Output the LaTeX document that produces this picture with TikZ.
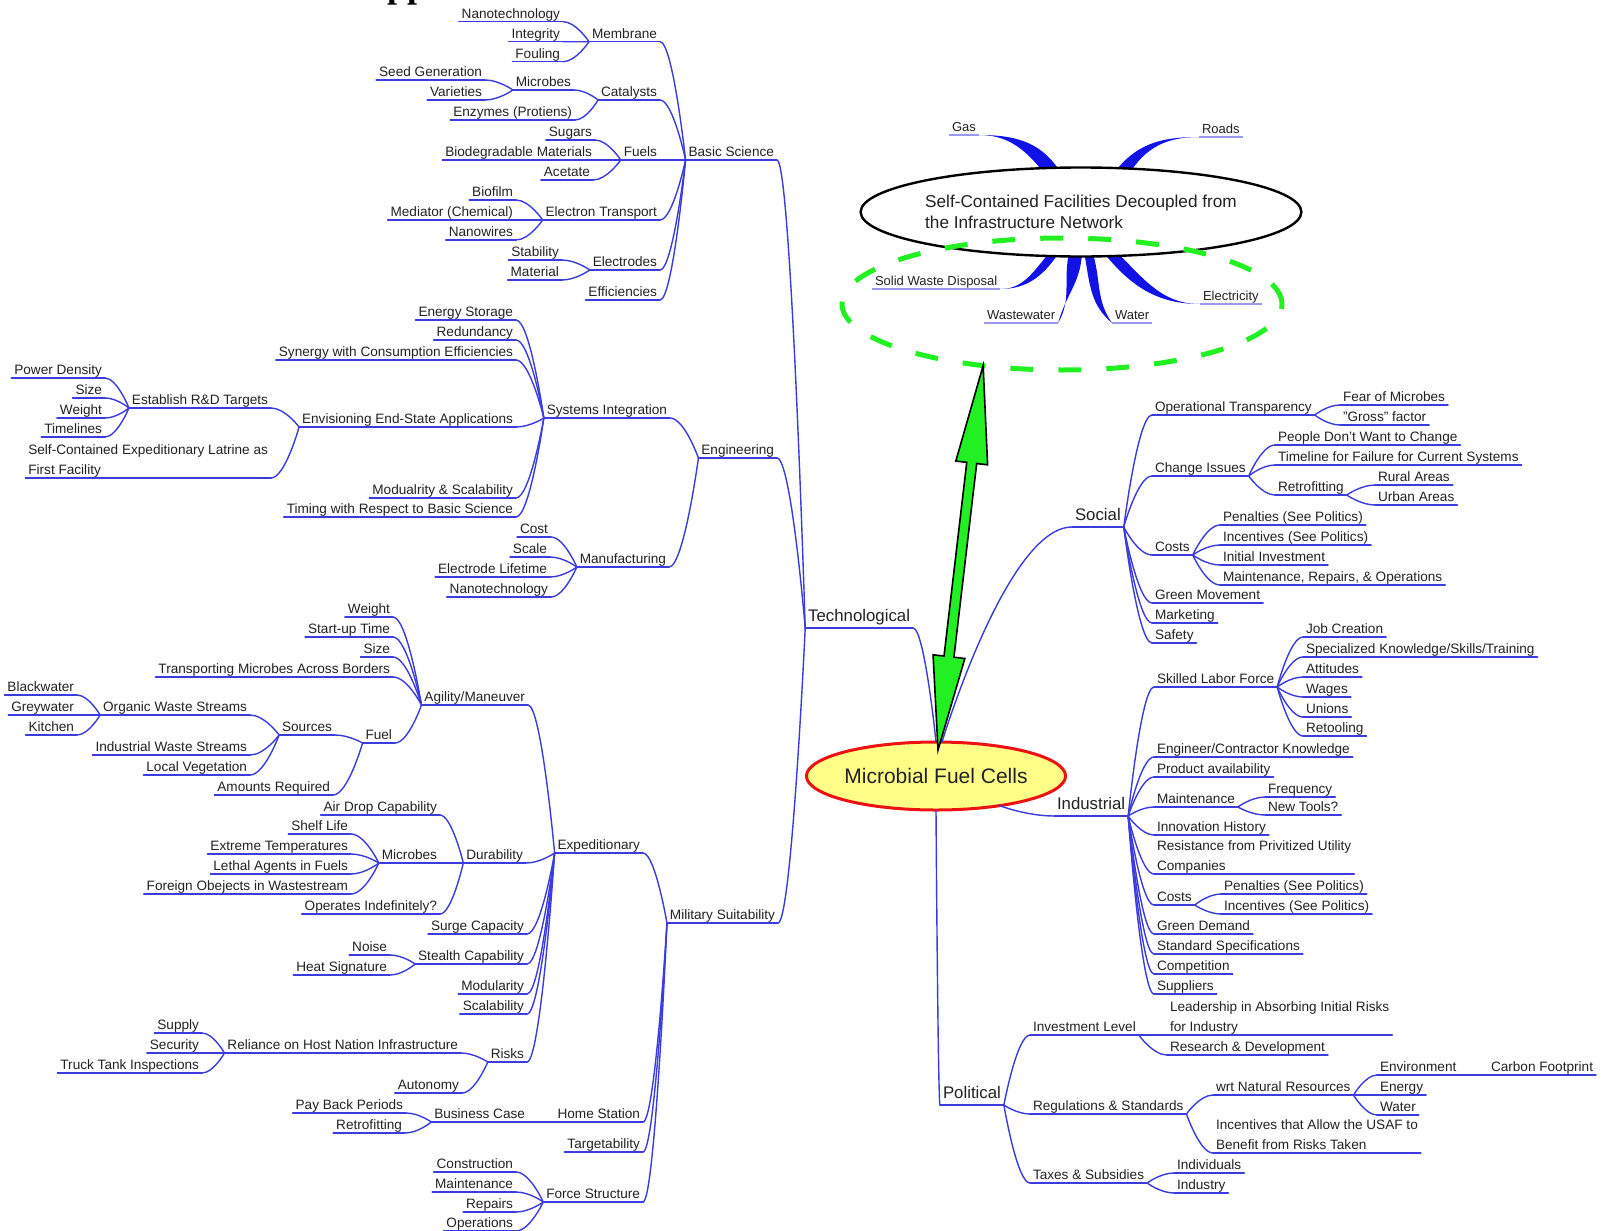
\documentclass[tikz,border=0pt]{standalone}
\usepackage{fontspec}
\setmainfont{Liberation Sans}
\newfontfamily\headfont{Liberation Serif}
\usetikzlibrary{shapes.geometric,calc,backgrounds}
\definecolor{mapblue}{HTML}{3B3BDE}
\definecolor{paleblue}{HTML}{9A9AF2}
\definecolor{deepblue}{HTML}{1212E6}
\definecolor{ink}{HTML}{222222}
\definecolor{lime}{HTML}{22F022}
\definecolor{hubfill}{HTML}{FFFF88}
\definecolor{hubred}{HTML}{EE1111}

\begin{document}
\begin{tikzpicture}[
  x=0.5pt, y=-0.5pt,
  every node/.style={text=ink, outer sep=0pt},
  mapline/.style={draw=mapblue, line width=0.7pt, line cap=round},
  paleline/.style={draw=paleblue, line width=0.6pt},
  topic/.style={font=\fontsize{6.8}{9.75}\selectfont, inner xsep=1.5pt, inner ysep=0.3pt, text depth=1.5pt, align=left,
    append after command={(\tikzlastnode.south west) edge[mapline] (\tikzlastnode.south east)}},
  ltopic/.style={topic, anchor=south east},
  rtopic/.style={topic, anchor=south west},
  branch/.style={font=\fontsize{8.4}{10}\selectfont, inner xsep=1.5pt, inner ysep=1pt, text depth=2.3pt,
    append after command={(\tikzlastnode.south west) edge[mapline] (\tikzlastnode.south east)}},
  outlet/.style={font=\fontsize{6.5}{8}\selectfont, inner xsep=1.5pt, inner ysep=0.3pt, text depth=1.5pt, anchor=south west,
    append after command={(\tikzlastnode.south west) edge[paleline] (\tikzlastnode.south east)}},
  link/.style={mapline, to path={.. controls (\tikztostart) and ($(\tikztotarget)!0.5!(\tikztotarget -| \tikztostart)$) .. (\tikztotarget)}},
]
\useasboundingbox (0,0) rectangle (1601,1231);
\begin{scope}[on background layer]
  \fill[white] (0,0) rectangle (1601,1231);
\end{scope}

% cut-off heading at the top edge
\node[anchor=base west, inner sep=0pt, text=black, font=\headfont\bfseries\fontsize{18}{20}\selectfont] (heading) at (387,-3) {pp};

% Hub
\node[ellipse, draw=hubred, line width=1.5pt, fill=hubfill, minimum width=118.5pt, minimum height=34pt, inner sep=0pt, font=\fontsize{10.5}{12}\selectfont] (mfc) at (936,776) {Microbial Fuel Cells};

% Technological
\node[branch, anchor=south east] (tech) at (913,628) {Technological};
\node[ltopic] (basic) at (777,160) {Basic Science};
\node[ltopic] (eng) at (777,458) {Engineering};
\node[ltopic] (mil) at (778,923) {Military Suitability};

% Basic Science
\node[ltopic] (memb) at (660,41.7) {Membrane};
\node[ltopic] (cata) at (660,100) {Catalysts};
\node[ltopic] (fuels) at (660,160) {Fuels};
\node[ltopic] (etrans) at (660,220) {Electron Transport};
\node[ltopic] (electr) at (660,270) {Electrodes};
\node[ltopic] (effic) at (660,300) {Efficiencies};
\node[ltopic] (nanoA) at (563,21.7) {Nanotechnology};
\node[ltopic] (integ) at (563,41.7) {Integrity};
\node[ltopic] (foul) at (563,61.7) {Fouling};
\node[ltopic] (microA) at (574,90) {Microbes};
\node[ltopic] (enzy) at (575,120) {Enzymes (Protiens)};
\node[ltopic] (seed) at (485,80) {Seed Generation};
\node[ltopic] (variet) at (485,100) {Varieties};
\node[ltopic] (sugar) at (595,140) {Sugars};
\node[ltopic] (biodeg) at (595,160) {Biodegradable Materials};
\node[ltopic] (acet) at (593,180) {Acetate};
\node[ltopic] (biofilm) at (516,200) {Biofilm};
\node[ltopic] (mediat) at (516,220) {Mediator (Chemical)};
\node[ltopic] (nanow) at (516,240) {Nanowires};
\node[ltopic] (stabil) at (562,260) {Stability};
\node[ltopic] (materl) at (562,280) {Material};

% Engineering
\node[ltopic] (sysint) at (670,418) {Systems Integration};
\node[ltopic] (manuf) at (669,567) {Manufacturing};
\node[ltopic] (energy) at (516,320) {Energy Storage};
\node[ltopic] (redund) at (516,340) {Redundancy};
\node[ltopic] (synergy) at (516,360) {Synergy with Consumption Efficiencies};
\node[ltopic] (envis) at (516,427) {Envisioning End-State Applications};
\node[ltopic] (modul) at (516,498) {Modualrity \& Scalability};
\node[ltopic] (timing) at (516,517) {Timing with Respect to Basic Science};
\node[ltopic] (rdtarg) at (271,408) {Establish R\&D Targets};
\node[ltopic] (latrine) at (271,478) {Self-Contained Expeditionary Latrine as\\First Facility};
\node[ltopic] (power) at (105,378) {Power Density};
\node[ltopic] (sizeA) at (105,398) {Size};
\node[ltopic] (weightA) at (105,418) {Weight};
\node[ltopic] (timel) at (105,437) {Timelines};
\node[ltopic] (costA) at (551,537) {Cost};
\node[ltopic] (scaleA) at (550,557) {Scale};
\node[ltopic] (elife) at (550,577) {Electrode Lifetime};
\node[ltopic] (nanoB) at (551,597) {Nanotechnology};

% Military Suitability
\node[ltopic] (exped) at (643,853) {Expeditionary};
\node[ltopic] (home) at (643,1122) {Home Station};
\node[ltopic] (target) at (643,1152) {Targetability};
\node[ltopic] (force) at (643,1202) {Force Structure};
\node[ltopic] (agil) at (528,705) {Agility/Maneuver};
\node[ltopic] (durab) at (526,863) {Durability};
\node[ltopic] (surge) at (527,934) {Surge Capacity};
\node[ltopic] (stealth) at (527,964) {Stealth Capability};
\node[ltopic] (moduB) at (527,994) {Modularity};
\node[ltopic] (scalB) at (527,1014) {Scalability};
\node[ltopic] (risks) at (527,1062) {Risks};
\node[ltopic] (weightB) at (393,617) {Weight};
\node[ltopic] (startup) at (393,637) {Start-up Time};
\node[ltopic] (sizeB) at (393,657) {Size};
\node[ltopic] (transp) at (393,677) {Transporting Microbes Across Borders};
\node[ltopic] (fuelB) at (395,743) {Fuel};
\node[ltopic] (sources) at (335,735) {Sources};
\node[ltopic] (amount) at (333,795) {Amounts Required};
\node[ltopic] (organic) at (250,715) {Organic Waste Streams};
\node[ltopic] (industw) at (250,755) {Industrial Waste Streams};
\node[ltopic] (localveg) at (250,775) {Local Vegetation};
\node[ltopic] (blackw) at (77,695) {Blackwater};
\node[ltopic] (greyw) at (77,715) {Greywater};
\node[ltopic] (kitchen) at (77,735) {Kitchen};
\node[ltopic] (airdrop) at (440,815) {Air Drop Capability};
\node[ltopic] (microB) at (440,863) {Microbes};
\node[ltopic] (operat) at (440,914) {Operates Indefinitely?};
\node[ltopic] (shelf) at (351,834) {Shelf Life};
\node[ltopic] (extreme) at (351,854) {Extreme Temperatures};
\node[ltopic] (lethal) at (351,874) {Lethal Agents in Fuels};
\node[ltopic] (foreign) at (351,894) {Foreign Obejects in Wastestream};
\node[ltopic] (noise) at (390,955) {Noise};
\node[ltopic] (heat) at (390,975) {Heat Signature};
\node[ltopic] (reliance) at (461,1053) {Reliance on Host Nation Infrastructure};
\node[ltopic] (autonomy) at (462,1093) {Autonomy};
\node[ltopic] (supply) at (202,1033) {Supply};
\node[ltopic] (security) at (202,1053) {Security};
\node[ltopic] (truck) at (202,1073) {Truck Tank Inspections};
\node[ltopic] (business) at (528,1122) {Business Case};
\node[ltopic] (payback) at (406,1113) {Pay Back Periods};
\node[ltopic] (retroA) at (405,1133) {Retrofitting};
\node[ltopic] (constr) at (516,1172) {Construction};
\node[ltopic] (maintA) at (516,1192) {Maintenance};
\node[ltopic] (repairs) at (516,1212) {Repairs};
\node[ltopic] (operations) at (516,1231) {Operations};

% Social
\node[branch, anchor=south west] (soc) at (1072,527) {Social};
\node[rtopic] (optrans) at (1152,415) {Operational Transparency};
\node[rtopic] (change) at (1152,476) {Change Issues};
\node[rtopic] (costsA) at (1152,555) {Costs};
\node[rtopic] (greenm) at (1152,603) {Green Movement};
\node[rtopic] (market) at (1152,623) {Marketing};
\node[rtopic] (safety) at (1152,643) {Safety};
\node[rtopic] (fear) at (1340,405) {Fear of Microbes};
\node[rtopic] (gross) at (1340,425) {"Gross" factor};
\node[rtopic] (people) at (1275,445) {People Don't Want to Change};
\node[rtopic] (timeline) at (1275,465) {Timeline for Failure for Current Systems};
\node[rtopic] (retroB) at (1275,495) {Retrofitting};
\node[rtopic] (rural) at (1375,485) {Rural Areas};
\node[rtopic] (urban) at (1375,505) {Urban Areas};
\node[rtopic] (penA) at (1220,525) {Penalties (See Politics)};
\node[rtopic] (incA) at (1220,545) {Incentives (See Politics)};
\node[rtopic] (initial) at (1220,565) {Initial Investment};
\node[rtopic] (mro) at (1220,585) {Maintenance, Repairs, \& Operations};

% Industrial
\node[branch, anchor=south west] (ind) at (1054,816) {Industrial};
\node[rtopic] (skilled) at (1154,687) {Skilled Labor Force};
\node[rtopic] (engcon) at (1154,757) {Engineer/Contractor Knowledge};
\node[rtopic] (product) at (1154,777) {Product availability};
\node[rtopic] (maintB) at (1154,807) {Maintenance};
\node[rtopic] (innov) at (1154,835) {Innovation History};
\node[rtopic] (resist) at (1154,874) {Resistance from Privitized Utility\\Companies};
\node[rtopic] (costsB) at (1154,905) {Costs};
\node[rtopic] (greend) at (1154,934) {Green Demand};
\node[rtopic] (stdspec) at (1154,954) {Standard Specifications};
\node[rtopic] (compet) at (1154,974) {Competition};
\node[rtopic] (suppl) at (1154,994) {Suppliers};
\node[rtopic] (job) at (1303,637) {Job Creation};
\node[rtopic] (special) at (1303,657) {Specialized Knowledge/Skills/Training};
\node[rtopic] (attit) at (1303,677) {Attitudes};
\node[rtopic] (wages) at (1303,697) {Wages};
\node[rtopic] (unions) at (1303,717) {Unions};
\node[rtopic] (retool) at (1303,736) {Retooling};
\node[rtopic] (freq) at (1265,797) {Frequency};
\node[rtopic] (newtools) at (1265,815) {New Tools?};
\node[rtopic] (penB) at (1221,894) {Penalties (See Politics)};
\node[rtopic] (incB) at (1221,914) {Incentives (See Politics)};

% Political
\node[branch, anchor=south west] (pol) at (940,1105) {Political};
\node[rtopic] (invest) at (1030,1035) {Investment Level};
\node[rtopic] (regul) at (1030,1114) {Regulations \& Standards};
\node[rtopic] (taxes) at (1030,1183) {Taxes \& Subsidies};
\node[rtopic] (leader) at (1167,1035) {Leadership in Absorbing Initial Risks\\for Industry};
\node[rtopic] (rnd) at (1167,1055) {Research \& Development};
\node[rtopic] (wrt) at (1213,1095) {wrt Natural Resources};
\node[rtopic] (incent) at (1213,1153) {Incentives that Allow the USAF to\\Benefit from Risks Taken};
\node[rtopic] (envir) at (1377,1075) {Environment};
\node[rtopic] (energyB) at (1377,1095) {Energy};
\node[rtopic] (waterB) at (1377,1115) {Water};
\node[rtopic] (carbon) at (1488,1075) {Carbon Footprint};
\node[rtopic] (indiv) at (1174,1173) {Individuals};
\node[rtopic] (industry) at (1174,1193) {Industry};

% Hub connectors
\draw[link] (mfc.north) to (tech.south east);
\draw[link] (mfc.80) to (soc.south west);
\draw[link] (mfc.-25) to (ind.south west);
\draw[link] (mfc.south) to (pol.south west);

% Left side: fan point -> child
\foreach \kid in {basic,eng,mil} \draw[link] (tech.south west) to (\kid.south east);
\foreach \kid in {memb,cata,fuels,etrans,electr,effic} \draw[link] (basic.south west) to (\kid.south east);
\foreach \kid in {nanoA,integ,foul} \draw[link] (memb.south west) to (\kid.south east);
\foreach \kid in {microA,enzy} \draw[link] (cata.south west) to (\kid.south east);
\foreach \kid in {seed,variet} \draw[link] (microA.south west) to (\kid.south east);
\foreach \kid in {sugar,biodeg,acet} \draw[link] (fuels.south west) to (\kid.south east);
\foreach \kid in {biofilm,mediat,nanow} \draw[link] (etrans.south west) to (\kid.south east);
\foreach \kid in {stabil,materl} \draw[link] (electr.south west) to (\kid.south east);
\foreach \kid in {sysint,manuf} \draw[link] (eng.south west) to (\kid.south east);
\foreach \kid in {energy,redund,synergy,envis,modul,timing} \draw[link] (sysint.south west) to (\kid.south east);
\foreach \kid in {rdtarg,latrine} \draw[link] (envis.south west) to (\kid.south east);
\foreach \kid in {power,sizeA,weightA,timel} \draw[link] (rdtarg.south west) to (\kid.south east);
\foreach \kid in {costA,scaleA,elife,nanoB} \draw[link] (manuf.south west) to (\kid.south east);
\foreach \kid in {exped,home,target,force} \draw[link] (mil.south west) to (\kid.south east);
\foreach \kid in {agil,durab,surge,stealth,moduB,scalB,risks} \draw[link] (exped.south west) to (\kid.south east);
\foreach \kid in {weightB,startup,sizeB,transp,fuelB} \draw[link] (agil.south west) to (\kid.south east);
\foreach \kid in {sources,amount} \draw[link] (fuelB.south west) to (\kid.south east);
\foreach \kid in {organic,industw,localveg} \draw[link] (sources.south west) to (\kid.south east);
\foreach \kid in {blackw,greyw,kitchen} \draw[link] (organic.south west) to (\kid.south east);
\foreach \kid in {airdrop,microB,operat} \draw[link] (durab.south west) to (\kid.south east);
\foreach \kid in {shelf,extreme,lethal,foreign} \draw[link] (microB.south west) to (\kid.south east);
\foreach \kid in {noise,heat} \draw[link] (stealth.south west) to (\kid.south east);
\foreach \kid in {reliance,autonomy} \draw[link] (risks.south west) to (\kid.south east);
\foreach \kid in {supply,security,truck} \draw[link] (reliance.south west) to (\kid.south east);
\draw[link] (home.south west) to (business.south east);
\foreach \kid in {payback,retroA} \draw[link] (business.south west) to (\kid.south east);
\foreach \kid in {constr,maintA,repairs,operations} \draw[link] (force.south west) to (\kid.south east);

% Right side: fan point -> child
\foreach \kid in {optrans,change,costsA,greenm,market,safety} \draw[link] (soc.south east) to (\kid.south west);
\foreach \kid in {fear,gross} \draw[link] (optrans.south east) to (\kid.south west);
\foreach \kid in {people,timeline,retroB} \draw[link] (change.south east) to (\kid.south west);
\foreach \kid in {rural,urban} \draw[link] (retroB.south east) to (\kid.south west);
\foreach \kid in {penA,incA,initial,mro} \draw[link] (costsA.south east) to (\kid.south west);
\foreach \kid in {skilled,engcon,product,maintB,innov,resist,costsB,greend,stdspec,compet,suppl} \draw[link] (ind.south east) to (\kid.south west);
\foreach \kid in {job,special,attit,wages,unions,retool} \draw[link] (skilled.south east) to (\kid.south west);
\foreach \kid in {freq,newtools} \draw[link] (maintB.south east) to (\kid.south west);
\foreach \kid in {penB,incB} \draw[link] (costsB.south east) to (\kid.south west);
\foreach \kid in {invest,regul,taxes} \draw[link] (pol.south east) to (\kid.south west);
\foreach \kid in {leader,rnd} \draw[link] (invest.south east) to (\kid.south west);
\foreach \kid in {wrt,incent} \draw[link] (regul.south east) to (\kid.south west);
\foreach \kid in {envir,energyB,waterB} \draw[link] (wrt.south east) to (\kid.south west);
\draw[link] (envir.south east) to (carbon.south west);
\foreach \kid in {indiv,industry} \draw[link] (taxes.south east) to (\kid.south west);

% Infrastructure cluster
\node[ellipse, draw=black, line width=1.2pt, fill=white, minimum width=179pt, minimum height=44.5pt, inner sep=0pt, align=left, font=\fontsize{8.6}{10.5}\selectfont] (selfc) at (1081,212) {Self-Contained Facilities Decoupled from\\the Infrastructure Network};
\node[outlet] (gas) at (949,135) {Gas};
\node[outlet] (roads) at (1199,137) {Roads};
\node[outlet] (swd) at (872,289) {Solid Waste Disposal};
\node[outlet] (wastew) at (984,323) {Wastewater};
\node[outlet] (waterA) at (1112,323) {Water};
\node[outlet] (elec) at (1200,304) {Electricity};
\begin{scope}[on background layer]
  \fill[deepblue] (gas.south east) to[out=0,in=130] (selfc.133) -- (selfc.118) to[out=125,in=0] (gas.south east);
  \fill[deepblue] (roads.south west) to[out=180,in=50] (selfc.50) -- (selfc.40) to[out=55,in=180] (roads.south west);
  \fill[deepblue] (swd.south east) to[out=0,in=-125] (selfc.241) -- (selfc.232) to[out=-130,in=0] (swd.south east);
  \fill[deepblue] (wastew.south east) to[out=60,in=-100] (selfc.254) -- (selfc.271) to[out=-95,in=75] (wastew.south east);
  \fill[deepblue] (waterA.south west) to[out=140,in=-80] (selfc.275) -- (selfc.286) to[out=-75,in=125] (waterA.south west);
  \fill[deepblue] (elec.south west) to[out=180,in=-50] (selfc.300) -- (selfc.312) to[out=-45,in=180] (elec.south west);
\end{scope}
\node[ellipse, draw=lime, line width=2.5pt, dash pattern=on 11.5pt off 12.5pt, minimum width=220pt, minimum height=66pt] (offgrid) at (1062,304) {};

% Double arrow between hub and the off-grid cluster
\coordinate (dntip) at ([shift={(1pt,-4pt)}]mfc.north);
\coordinate (uptip) at (offgrid.218);
\coordinate (dnbase) at ($(dntip)!47pt!(uptip)$);
\coordinate (upbase) at ($(uptip)!49pt!(dntip)$);
\filldraw[fill=lime, draw=black, line width=0.8pt, line join=miter] (dntip)
  -- ($(dnbase)!8pt!90:(uptip)$) -- ($(dnbase)!2.5pt!90:(uptip)$)
  -- ($(upbase)!2.5pt!-90:(dntip)$) -- ($(upbase)!8pt!-90:(dntip)$)
  -- (uptip)
  -- ($(upbase)!8pt!90:(dntip)$) -- ($(upbase)!2.5pt!90:(dntip)$)
  -- ($(dnbase)!2.5pt!-90:(uptip)$) -- ($(dnbase)!8pt!-90:(uptip)$)
  -- cycle;

\end{tikzpicture}
\end{document}
